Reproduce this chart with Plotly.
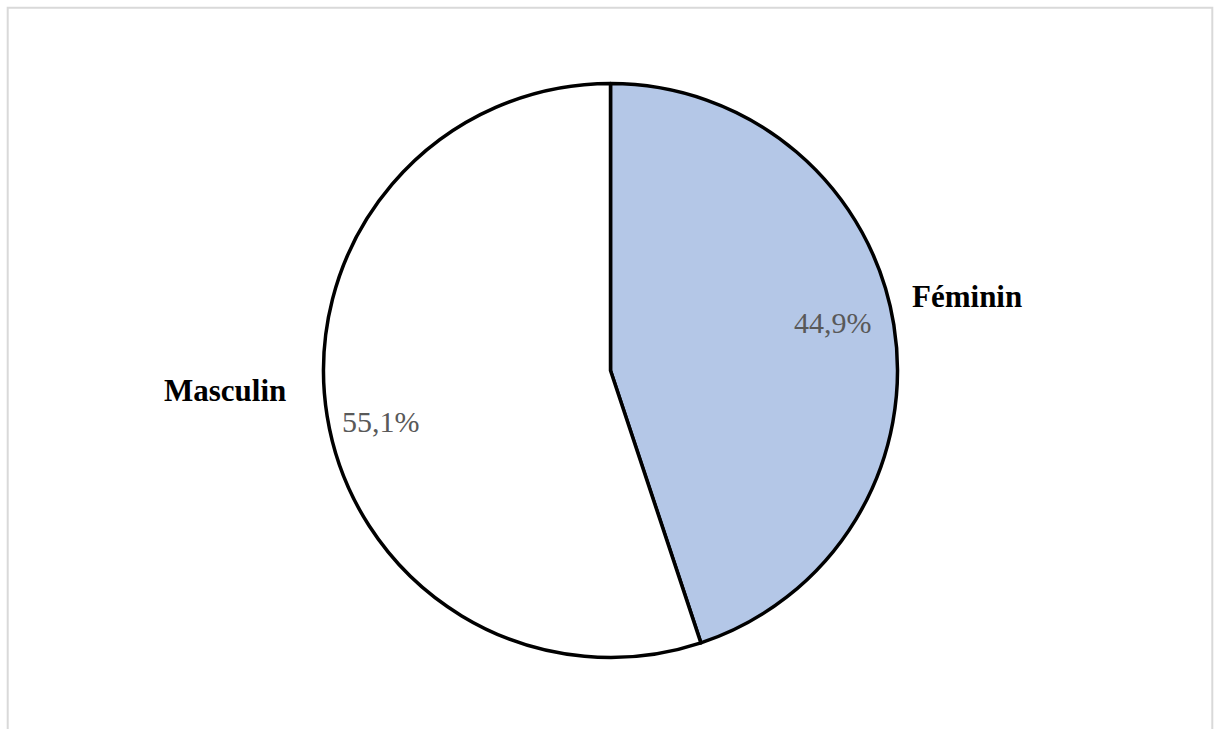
import math
import plotly.graph_objects as go

# Répartition par sexe
categories = ["Féminin", "Masculin"]
values = [44.9, 55.1]
slice_colors = ["#b4c7e7", "#ffffff"]

W, H = 1217, 729
CX, CY, R = 610.5, 370.5, 287  # pie centre and radius in pixels

fig = go.Figure(
    go.Pie(
        labels=categories,
        values=values,
        sort=False,
        direction="clockwise",
        rotation=0,
        textinfo="none",
        hoverinfo="label+percent",
        marker=dict(colors=slice_colors, line=dict(color="#000000", width=3.5)),
        domain=dict(x=[(CX - R) / W, (CX + R) / W], y=[1 - (CY + R) / H, 1 - (CY - R) / H]),
        showlegend=False,
    )
)


def polar_to_paper(angle_deg, radius_factor):
    a = math.radians(angle_deg)
    x = CX + R * radius_factor * math.sin(a)
    y = CY - R * radius_factor * math.cos(a)
    return x / W, 1 - y / H


# (angle nudge in degrees, radial factor) for category name and percentage
name_place = {"Féminin": (-2.6, 1.27), "Masculin": (6.2, 1.345)}
pct_place = {"Féminin": (-3.1, 0.793), "Masculin": (-3.45, 0.82)}

total = sum(values)
start = 0.0
annotations = []
for cat, val in zip(categories, values):
    span = 360.0 * val / total
    mid = start + span / 2
    start += span

    da, rf = name_place[cat]
    x, y = polar_to_paper(mid + da, rf)
    annotations.append(dict(
        x=x, y=y, xref="paper", yref="paper", showarrow=False,
        text=f"<b>{cat}</b>", xanchor="center", yanchor="middle",
        font=dict(family="Liberation Serif", size=31, color="#000000"),
    ))

    da, rf = pct_place[cat]
    x, y = polar_to_paper(mid + da, rf)
    pct = f"{val:.1f}".replace(".", ",") + "%"
    annotations.append(dict(
        x=x, y=y, xref="paper", yref="paper", showarrow=False,
        text=pct, xanchor="center", yanchor="middle",
        font=dict(family="Liberation Serif", size=30, color="#595959"),
    ))

fig.update_layout(
    width=W,
    height=H,
    margin=dict(l=0, r=0, t=0, b=0),
    paper_bgcolor="#ffffff",
    plot_bgcolor="#ffffff",
    annotations=annotations,
    shapes=[dict(
        type="rect", xref="paper", yref="paper",
        x0=7.7 / W, x1=1212.3 / W, y0=-0.05, y1=1 - 7.7 / H,
        line=dict(color="#d9d9d9", width=2), fillcolor="rgba(0,0,0,0)",
        layer="below",
    )],
)

fig.write_html("out.html")
